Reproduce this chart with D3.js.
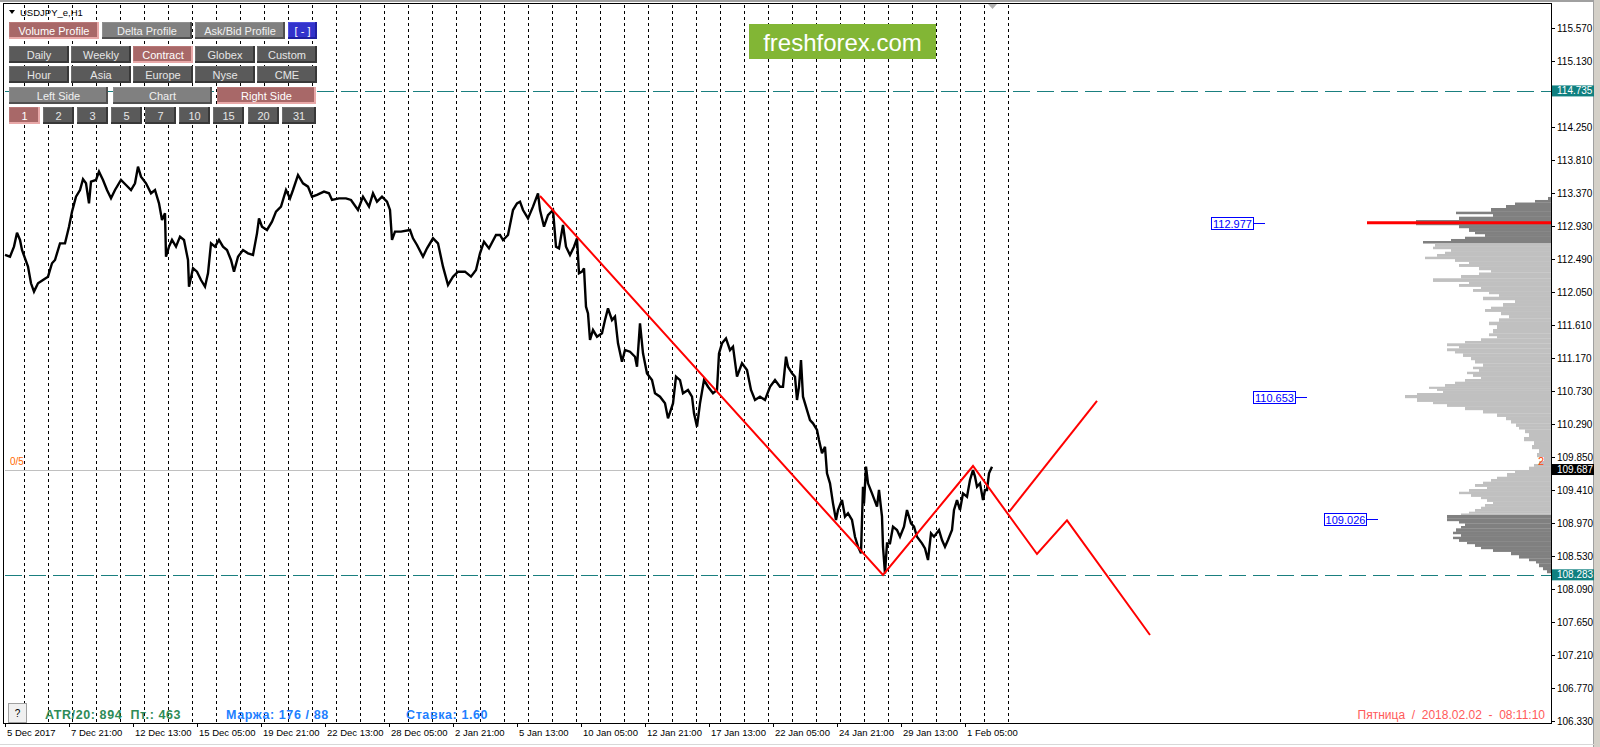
<!DOCTYPE html>
<html><head><meta charset="utf-8">
<script src="https://cdn.jsdelivr.net/npm/d3@7"></script>
<style>
body{margin:0;background:#fff;overflow:hidden}
svg{display:block}
text{font-family:"Liberation Sans",Arial,sans-serif}
</style>
</head><body>
<svg id="c" width="1600" height="747"></svg>
<script>
// ---------------- DATA ----------------
const symbolTitle = "USDJPY_e,H1";
// hourly bar index (from 5 Dec 2017) and price
const priceBars = [0,5,9,12,15,17,23,26,29,33,38,43,47,50,55,60,64,67,71,75,78,81,84,86,91,94,98,102,106,110,116,121,126,130,133,136,141,146,150,154,157,160,161,164,167,171,175,179,183,184,188,192,196,200,203,206,210,214,218,222,226,229,233,238,243,248,252,254,257,262,267,271,276,281,285,288,293,298,303,307,312,319,324,327,334,341,346,353,358,364,368,372,377,382,385,387,390,396,405,408,412,418,422,428,433,438,443,448,453,460,466,471,475,479,484,491,
495,498,503,508,512,515,518,523,528,533,535,539,543,548,551,554,558,561,565,569,572,574,577,579,581,583,585,588,592,597,600,603,607,610,613,617,620,625,630,632,635,638,642,647,650,655,660,663,668,671,675,678,683,687,689,692,695,699,703,708,712,714,717,721,725,728,732,737,742,746,750,755,760,765,770,775,
778,781,783,787,790,792,794,796,798,802,805,808,812,814,817,820,822,825,828,831,833,837,840,843,847,850,853,856,858,859,861,863,867,872,874,877,878,880,882,885,888,892,895,899,902,906,909,912,917,920,923,926,929,934,937,940,943,947,949,952,955,958,962,965,968,970,972,975,978,980,982,984,987];
const priceValues = [112.548,112.525,112.659,112.845,112.748,112.614,112.392,112.170,112.059,112.170,112.214,112.259,112.437,112.481,112.703,112.703,112.925,113.125,113.325,113.414,113.557,113.503,113.236,113.525,113.548,113.659,113.548,113.414,113.303,113.414,113.548,113.481,113.414,113.503,113.725,113.592,113.503,113.370,113.414,113.236,113.014,113.103,112.525,112.659,112.748,112.659,112.792,112.748,112.481,112.125,112.370,112.325,112.214,112.125,112.303,112.703,112.659,112.748,112.659,112.614,112.481,112.325,112.525,112.614,112.570,112.548,112.836,113.036,112.925,112.881,112.992,113.125,113.192,113.414,113.303,113.414,113.614,113.503,113.459,113.325,113.348,113.392,113.370,113.281,113.303,113.303,113.281,113.148,113.325,113.192,113.370,113.259,113.325,113.259,113.148,112.748,112.859,112.859,112.881,112.770,112.681,112.525,112.636,112.770,112.703,112.392,112.148,112.259,112.325,112.325,112.259,112.348,112.570,112.725,112.636,112.814,
112.814,112.747,112.814,113.147,113.236,113.258,113.147,113.036,113.192,113.369,113.147,112.925,113.080,113.147,112.658,112.636,112.947,112.658,112.547,112.658,112.769,112.303,112.325,112.369,111.858,111.769,111.414,111.547,111.458,111.503,111.680,111.836,111.680,111.725,111.369,111.125,111.280,111.258,111.191,111.058,111.636,111.236,110.969,110.880,110.703,110.658,110.569,110.369,110.569,110.925,110.880,110.703,110.747,110.658,110.436,110.258,110.569,110.880,110.791,110.703,110.747,111.236,111.369,111.436,111.280,111.325,110.925,111.103,111.014,110.747,110.614,110.658,110.614,110.791,110.880,110.791,
110.791,111.192,111.058,110.969,110.925,110.614,110.791,111.147,110.658,110.480,110.347,110.303,110.214,110.080,109.903,109.991,109.636,109.503,109.236,109.014,109.147,109.280,109.058,109.103,109.014,108.791,108.658,108.569,109.458,109.236,109.725,109.503,109.369,109.192,109.414,109.058,108.658,108.303,108.703,108.703,108.925,108.880,108.791,108.925,109.147,108.969,108.925,108.791,108.703,108.636,108.480,108.836,108.791,108.880,108.747,108.658,108.747,108.880,109.147,109.280,109.147,109.369,109.325,109.547,109.680,109.592,109.458,109.503,109.280,109.414,109.414,109.636,109.725];

// drawn zigzag (bar index, price)
const zigzagBars = [535,878,968,1032,1062,1145];
const zigzagPrices = [113.334,108.281,109.734,108.561,109.008,107.481];
const branchBars = [1004,1092];
const branchPrices = [109.121,110.601];

// horizontal levels
const dashedLevels = [114.735,108.283];
const currentPrice = 109.687;

// volume profile rows: price of each row top edge, and its volume (last is the end edge)
const profilePrices = [113.321,113.281,113.247,113.214,113.174,113.125,113.094,113.058,113.014,112.983,112.947,112.907,112.858,112.827,112.791,112.761,112.734,112.703,112.658,112.627,112.591,112.561,112.525,112.494,112.458,112.427,112.391,112.347,112.314,112.281,112.237,112.191,112.161,112.125,112.094,112.058,112.027,111.991,111.947,111.907,111.858,111.827,111.791,111.747,111.703,111.658,111.614,111.561,111.503,111.467,111.437,111.401,111.370,111.334,111.303,111.267,111.237,111.191,111.147,111.103,111.058,111.027,110.991,110.961,110.925,110.894,110.858,110.827,110.791,110.765,110.738,110.707,110.681,110.641,110.591,110.561,110.525,110.481,110.437,110.391,110.347,110.303,110.258,110.223,110.174,110.121,110.067,110.014,109.961,109.907,109.854,109.801,109.761,109.725,109.681,109.641,109.591,109.561,109.525,109.494,109.458,109.427,109.391,109.361,109.325,109.294,109.258,109.227,109.191,109.161,109.125,109.101,109.081,109.037,109.001,108.970,108.934,108.903,108.858,108.827,108.791,108.761,108.725,108.694,108.658,108.627,108.591,108.547,108.503,108.467,108.437,108.387,108.347,108.307];
const profileVolumes = [3,16,36,45,60,95,58,92,135,135,92,82,76,66,86,100,128,116,118,100,106,114,126,96,82,92,72,60,72,90,118,82,92,70,78,62,52,68,36,48,60,66,50,42,52,62,54,58,62,54,70,86,104,92,104,96,88,80,76,68,78,72,84,78,70,86,96,106,122,114,108,134,146,134,118,104,86,68,54,45,40,35,32,26,22,27,17,19,12,14,7,12,17,22,36,44,54,60,68,76,64,82,92,80,70,64,58,66,70,76,82,90,104,104,92,86,90,95,98,90,98,92,84,76,70,58,40,32,22,15,12,8,4,0];
const valueAreaRanges = [[112.703,113.40],[108.30,109.081]];
const pocPrice = 112.977;
const levelPrices = [112.977,110.653,109.026];
const levelAnchorBars = [1260,1302,1373];

// axes
const priceTicks = [115.570,115.130,114.690,114.250,113.810,113.370,112.930,112.490,112.050,111.610,111.170,110.730,110.290,109.850,109.410,108.970,108.530,108.090,107.650,107.210,106.770,106.330];
const timeLabels = ["5 Dec 2017","7 Dec 21:00","12 Dec 13:00","15 Dec 05:00","19 Dec 21:00","22 Dec 13:00","28 Dec 05:00","2 Jan 21:00","5 Jan 13:00","10 Jan 05:00","12 Jan 21:00","17 Jan 13:00","22 Jan 05:00","24 Jan 21:00","29 Jan 13:00","1 Feb 05:00"];
const timeLabelBars = [0,64,128,192,256,320,384,448,512,576,640,704,768,832,896,960];
const daySeparatorBars = [19,43,67,91,115,139,163,187,211,235,259,283,307,331,355,379,403,427,451,475,499,523,547,571,595,619,643,667,691,715,739,763,787,811,835,859,883,907,931,955,979,1003];

// panel buttons
const buttonRow1 = ["Volume Profile","Delta Profile","Ask/Bid Profile","[ - ]"];
const buttonRow2 = ["Daily","Weekly","Contract","Globex","Custom"];
const buttonRow3 = ["Hour","Asia","Europe","Nyse","CME"];
const buttonRow4 = ["Left Side","Chart","Right Side"];
const buttonRow5 = ["1","2","3","5","7","10","15","20","31"];
const statusGreen = "ATR/20: 894  Пт.: 463";
const statusMargin = "Маржа: 176 / 88";
const statusRate = "Ставка: 1.60";
const clockText = "Пятница  /  2018.02.02  -  08:11:10";
const watermark = "freshforex.com";

// ---------------- DRAW ----------------
const svg = d3.select("#c");
const P = {l:4, t:4, r:1551, b:723};
const x = d3.scaleLinear().domain([0,1546]).range([5,1551]);
const y = d3.scaleLinear().domain([106.330,115.570]).range([721.3,28.3]);

svg.append("rect").attr("width",1600).attr("height",747).attr("fill","#fff");
// window frame
svg.append("rect").attr("x",0).attr("y",0).attr("width",1600).attr("height",2).attr("fill","#a0a0a0");
svg.append("rect").attr("x",1594).attr("y",0).attr("width",6).attr("height",747).attr("fill","#d4d0c8");
svg.append("rect").attr("x",1593).attr("y",0).attr("width",1).attr("height",747).attr("fill","#a0a0a0");
svg.append("rect").attr("x",0).attr("y",744).attr("width",1594).attr("height",1).attr("fill","#d8d8d8");

const plot = svg.append("g");
// day separators
plot.selectAll("line.sep").data(daySeparatorBars).join("line")
  .attr("x1",d=>Math.round(x(d))+0.5).attr("x2",d=>Math.round(x(d))+0.5)
  .attr("y1",P.t+1).attr("y2",P.b).attr("stroke","#000").attr("stroke-width",1).attr("stroke-dasharray","3,3");

// volume profile
const vScale = d3.scaleLinear().domain([0,146]).range([0,146]);
const inVA = p => valueAreaRanges.some(r => p>=r[0] && p<=r[1]);
const rows = profilePrices.slice(0,-1).map((p,i)=>({p, v:profileVolumes[i], pn:profilePrices[i+1]}));
plot.selectAll("rect.prof").data(rows).join("rect")
  .attr("x",d=>P.r - vScale(d.v)).attr("width",d=>vScale(d.v))
  .attr("y",d=>y(d.p)).attr("height",d=>y(d.pn)-y(d.p)+0.2)
  .attr("fill",d=>inVA((d.p+d.pn)/2) ? "#808080" : "#c0c0c0");

// horizontal levels
plot.append("line").attr("x1",P.l+1).attr("x2",P.r).attr("y1",Math.round(y(currentPrice))+0.5).attr("y2",Math.round(y(currentPrice))+0.5)
  .attr("stroke","#c0c0c0").attr("stroke-width",1);
plot.selectAll("line.lvl").data(dashedLevels).join("line")
  .attr("x1",P.l+1).attr("x2",P.r).attr("y1",d=>Math.round(y(d))+0.5).attr("y2",d=>Math.round(y(d))+0.5)
  .attr("stroke","#1a7f7f").attr("stroke-width",1.2).attr("stroke-dasharray","17,7");

// POC line
plot.append("line").attr("x1",x(1362)).attr("x2",P.r).attr("y1",y(pocPrice)).attr("y2",y(pocPrice))
  .attr("stroke","#ff0000").attr("stroke-width",3);

// price line
const line = d3.line().x((d,i)=>x(priceBars[i])).y(d=>y(d));
plot.append("path").attr("d",line(priceValues)).attr("fill","none").attr("stroke","#000").attr("stroke-width",2.4).attr("stroke-linejoin","miter").attr("stroke-miterlimit",3);

// zigzag
const zl = d3.line().x(d=>x(d[0])).y(d=>y(d[1]));
plot.append("path").attr("d",zl(zigzagBars.map((b,i)=>[b,zigzagPrices[i]]))).attr("fill","none").attr("stroke","#ff0000").attr("stroke-width",2);
plot.append("path").attr("d",zl(branchBars.map((b,i)=>[b,branchPrices[i]]))).attr("fill","none").attr("stroke","#ff0000").attr("stroke-width",2);

// level labels
levelPrices.forEach((p,i)=>{
  const ax = x(levelAnchorBars[i]);
  const yy = Math.round(y(p))+0.5;
  plot.append("line").attr("x1",ax-11).attr("x2",ax).attr("y1",yy).attr("y2",yy).attr("stroke","#0000ff");
  plot.append("rect").attr("x",ax-53.5).attr("y",yy-6).attr("width",42).attr("height",12)
    .attr("fill","#fff").attr("stroke","#0000ff").attr("stroke-width",1);
  plot.append("text").attr("x",ax-32.5).attr("y",yy+4).attr("text-anchor","middle")
    .attr("font-size","11px").attr("fill","#0000ff").text(p.toFixed(3));
});

// border
svg.append("rect").attr("x",P.l-0.5).attr("y",P.t-0.5).attr("width",P.r-P.l+1).attr("height",P.b-P.t+1)
  .attr("fill","none").attr("stroke","#000").attr("stroke-width",1);

// right axis
const ax = svg.append("g");
const boxed = [dashedLevels[0],currentPrice,dashedLevels[1]];
const visibleTicks = priceTicks.filter(t => !boxed.some(b => Math.abs(y(b)-y(t))<9));
ax.selectAll("line.t").data(priceTicks).join("line")
  .attr("x1",P.r).attr("x2",P.r+4).attr("y1",d=>Math.round(y(d))+0.5).attr("y2",d=>Math.round(y(d))+0.5).attr("stroke","#000");
ax.selectAll("text.t").data(visibleTicks).join("text")
  .attr("x",P.r+6).attr("y",d=>y(d)+3.5).attr("font-size","10px").attr("fill","#000").text(d=>d.toFixed(3));
const boxes = [[dashedLevels[0],"#0f8080"],[currentPrice,"#000"],[dashedLevels[1],"#0f8080"]];
boxes.forEach(([p,c])=>{
  ax.append("rect").attr("x",P.r+1).attr("y",y(p)-5.5).attr("width",42).attr("height",11).attr("fill",c);
  ax.append("text").attr("x",P.r+6).attr("y",y(p)+3.5).attr("font-size","10px").attr("fill","#fff").text(p.toFixed(3));
});

// bottom axis
ax.selectAll("line.bt").data(timeLabelBars).join("line")
  .attr("x1",d=>Math.round(x(d))+0.5).attr("x2",d=>Math.round(x(d))+0.5).attr("y1",P.b).attr("y2",P.b+4).attr("stroke","#000");
ax.selectAll("text.bt").data(timeLabels).join("text")
  .attr("x",(d,i)=>x(timeLabelBars[i])+2).attr("y",736).attr("font-size","9.5px").attr("fill","#000").text(d=>d);

// labels 0/5 and 2
svg.append("text").attr("x",10).attr("y",465).attr("font-size","10px").attr("fill","#ff6a00").text("0/5");
svg.append("text").attr("x",1538).attr("y",465).attr("font-size","11px").attr("fill","#ff4500").text("2");

// shift marker
svg.append("path").attr("d","M988,4 L997,4 L992.5,9 Z").attr("fill","#b0b0b0");

// title
svg.append("path").attr("d","M9,10 L15,10 L12,14 Z").attr("fill","#000");
svg.append("text").attr("x",20).attr("y",16).attr("font-size","9.5px").attr("fill","#000").text(symbolTitle);

// buttons
const styles = {
  dark:{fill:"#5a5a5a",hi:"#6e6e6e",lo:"#383838",txt:"#e6e6e6"},
  mid:{fill:"#808080",hi:"#909090",lo:"#505050",txt:"#f0f0f0"},
  rose:{fill:"#a86868",hi:"#b87878",lo:"#e8a8a8",txt:"#ffffff"},
  blue:{fill:"#3333cc",hi:"#5050e0",lo:"#2020a0",txt:"#ffffff"}
};
function button(x0,y0,w,h,label,st){
  const s = styles[st];
  const g = svg.append("g");
  g.append("rect").attr("x",x0).attr("y",y0).attr("width",w).attr("height",h).attr("fill",s.fill);
  g.append("path").attr("d",`M${x0+0.5},${y0+h} V${y0+0.5} H${x0+w}`).attr("stroke",s.hi).attr("fill","none");
  g.append("path").attr("d",`M${x0+w-1},${y0} V${y0+h-1} H${x0}`).attr("stroke",s.lo).attr("stroke-width",2).attr("fill","none");
  g.append("text").attr("x",x0+w/2).attr("y",y0+h/2+4).attr("text-anchor","middle")
    .attr("font-size","11px").attr("fill",s.txt).text(label);
}
const r1x=[[9,90],[102,90],[195,90],[288,29]]; const r1s=["rose","mid","mid","blue"];
buttonRow1.forEach((l,i)=>button(r1x[i][0],22,r1x[i][1],17,l,r1s[i]));
const r2x=[9,71,133,195,257];
buttonRow2.forEach((l,i)=>button(r2x[i],46,60,17,l,l==="Contract"?"rose":"dark"));
buttonRow3.forEach((l,i)=>button(r2x[i],66,60,17,l,"dark"));
const r4x=[9,113,217];
buttonRow4.forEach((l,i)=>button(r4x[i],87,99,17,l,i===2?"rose":"mid"));
const r5x=[9,43,77,111,145,179,213,248,282];
buttonRow5.forEach((l,i)=>button(r5x[i],107,i===8?34:31,17,l,i===0?"rose":"dark"));

// watermark
svg.append("rect").attr("x",749).attr("y",24).attr("width",187).attr("height",35).attr("fill","#82b635");
svg.append("text").attr("x",842.5).attr("y",50.5).attr("text-anchor","middle").attr("font-family","'Open Sans',sans-serif")
  .attr("font-size","24px").attr("fill","#fff").text(watermark);

// status bar
svg.append("rect").attr("x",8.5).attr("y",703.5).attr("width",18).attr("height",19).attr("fill","#f0f0f0").attr("stroke","#a0a0a0");
svg.append("text").attr("x",17.5).attr("y",717).attr("text-anchor","middle").attr("font-size","10px").attr("fill","#000").text("?");
const stat = (t,xx,col) => svg.append("text").attr("x",xx).attr("y",719).attr("font-family","'DejaVu Sans',sans-serif")
  .attr("font-weight","bold").attr("font-size","12.5px").attr("letter-spacing","0.6px").attr("fill",col).style("white-space","pre").text(t);
stat(statusGreen,45,"#2e8b57");
stat(statusMargin,226,"#1e80ff");
stat(statusRate,406,"#1e80ff");
svg.append("text").attr("x",1545).attr("y",719).attr("text-anchor","end").attr("font-size","12px").attr("fill","#ff5a5a").style("white-space","pre").text(clockText);
</script>
</body></html>
